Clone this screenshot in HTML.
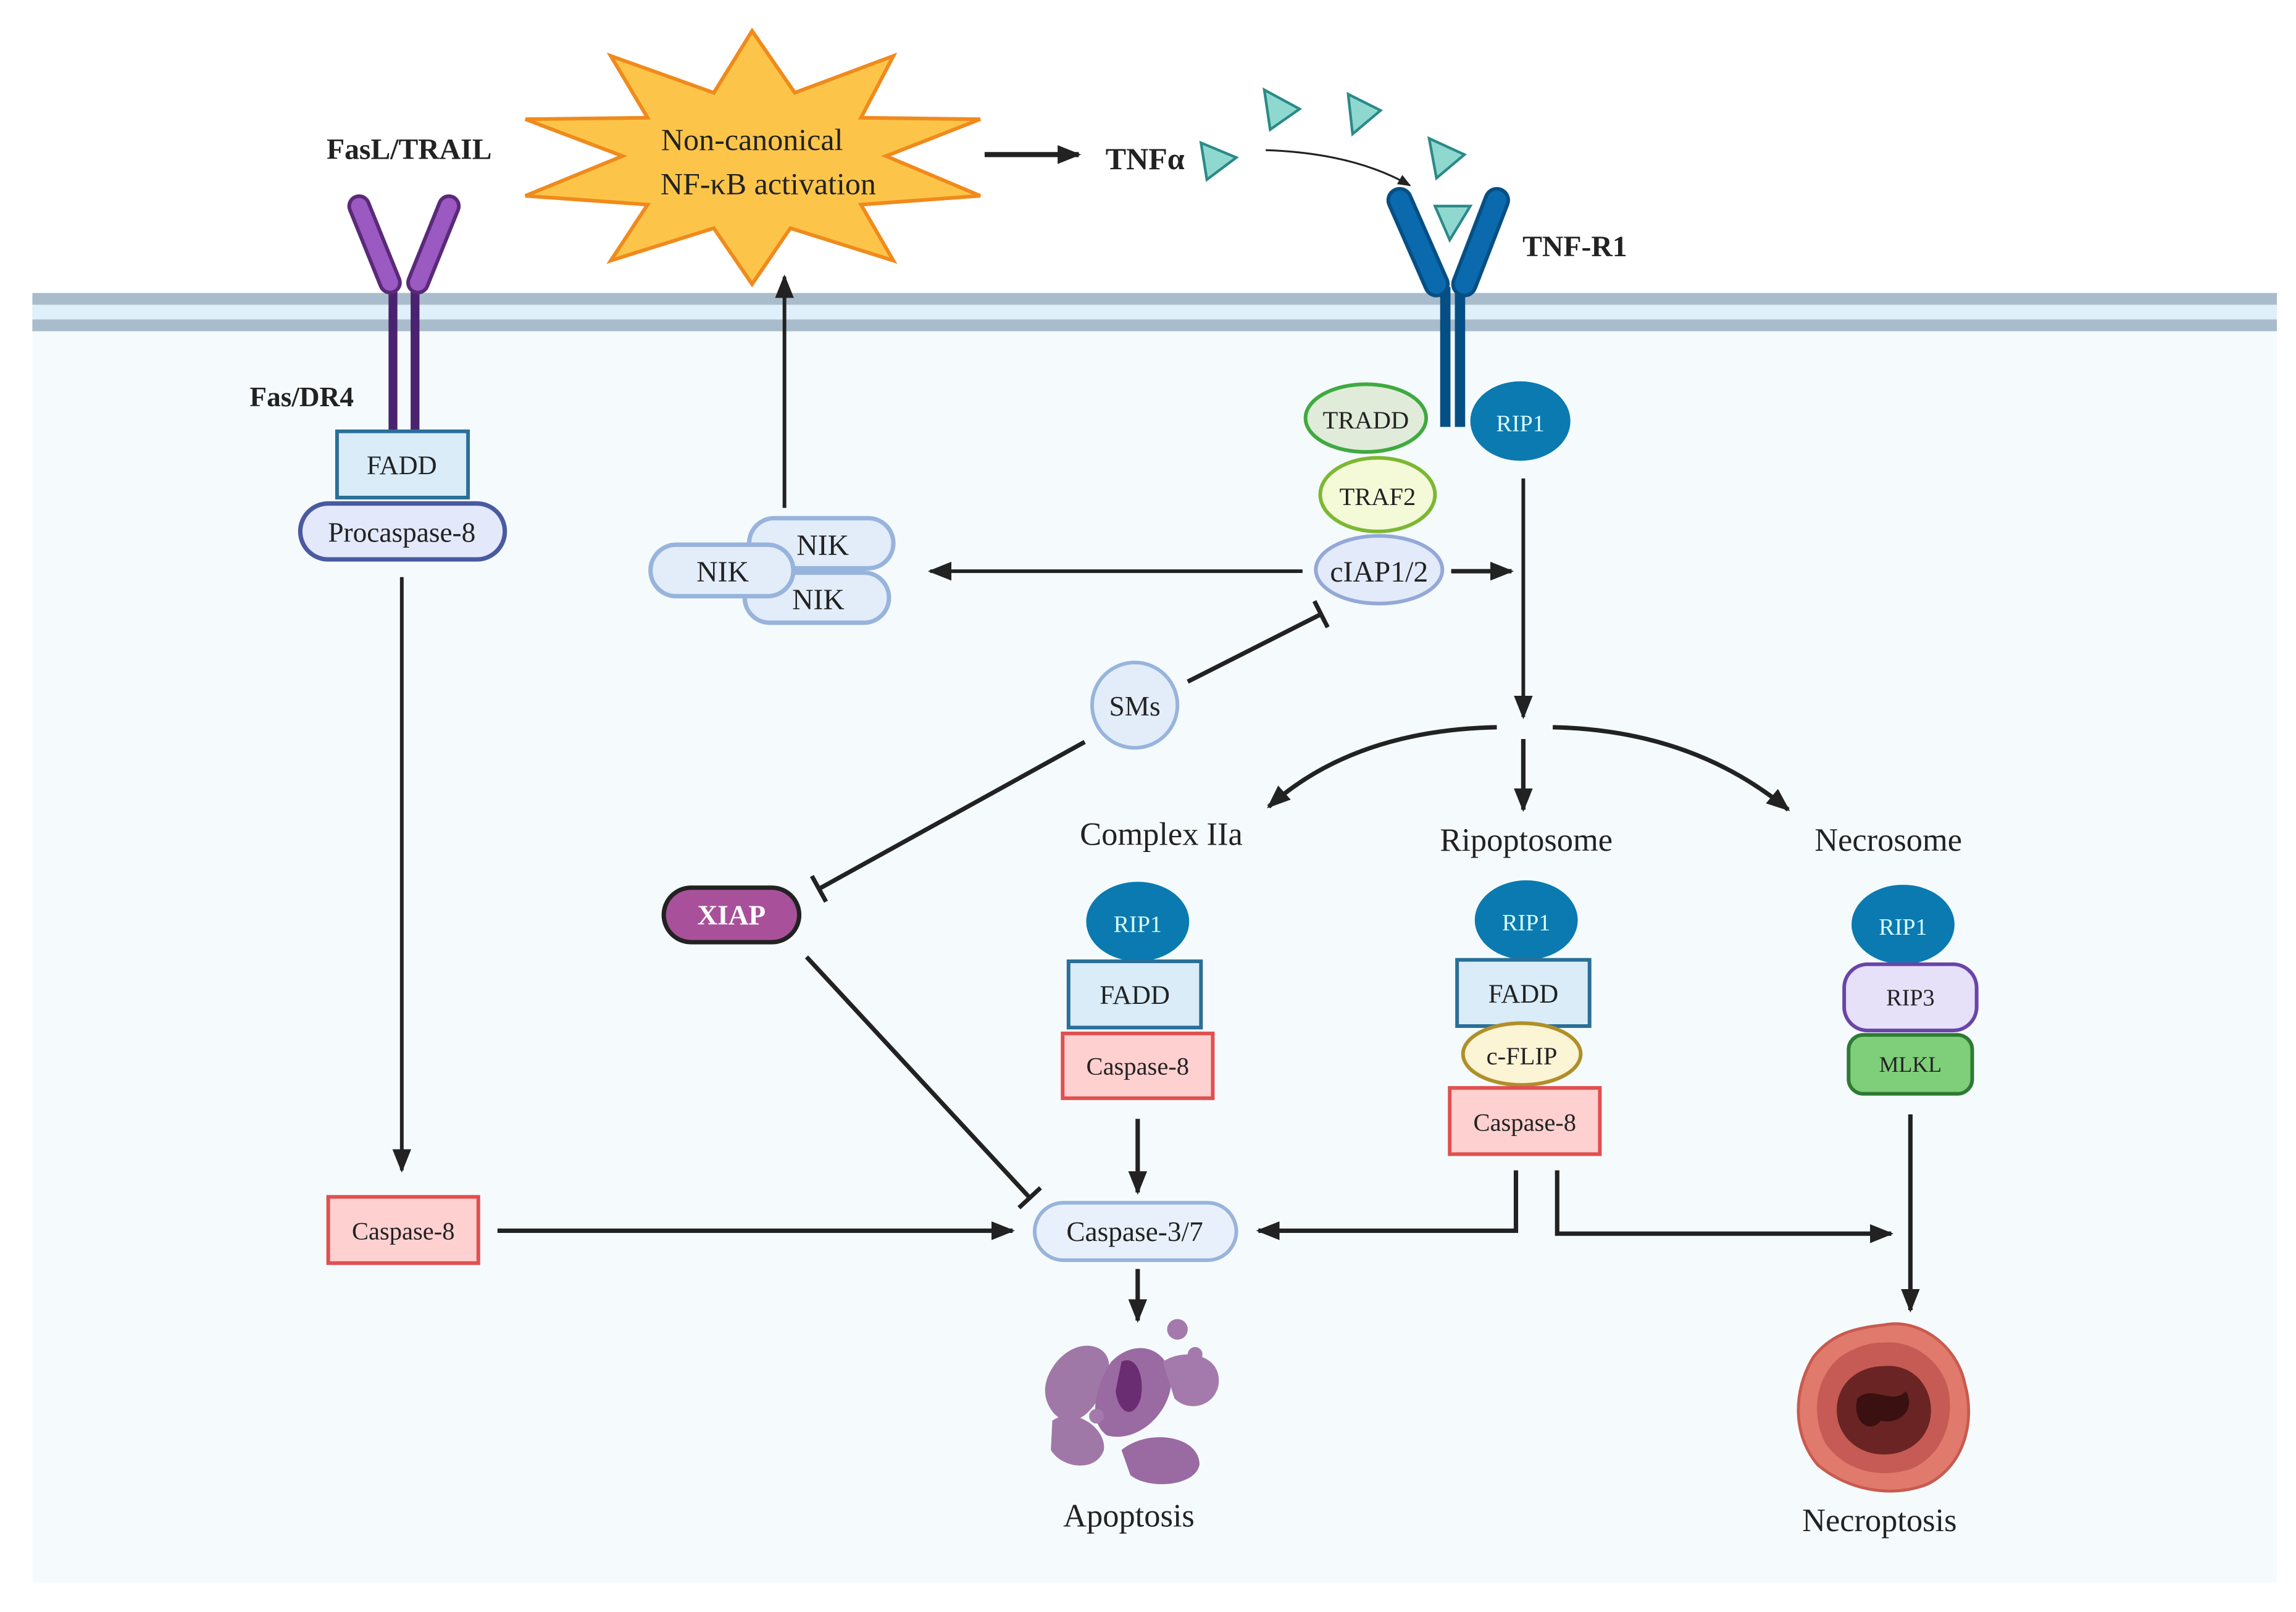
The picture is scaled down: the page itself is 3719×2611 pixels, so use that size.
<!DOCTYPE html>
<html><head><meta charset="utf-8"><style>
html,body{margin:0;padding:0;background:#fff}
svg{display:block}
text{font-family:"Liberation Serif",serif;fill:#222}
</style></head><body>
<svg width="3719" height="2611" viewBox="0 0 1560 1095" preserveAspectRatio="none" xmlns="http://www.w3.org/2000/svg">
<defs>
<marker id="a" viewBox="0 0 10 10" refX="9" refY="5" markerWidth="5" markerHeight="5" orient="auto-start-reverse" markerUnits="userSpaceOnUse"><path d="M0,0L10,5L0,10z" fill="#222"/></marker>
<marker id="ab" viewBox="0 0 10 10" refX="9" refY="5" markerWidth="16" markerHeight="16" orient="auto" markerUnits="userSpaceOnUse"><path d="M0,1L10,5L0,9z" fill="#222"/></marker>
<marker id="as" viewBox="0 0 10 10" refX="9" refY="5" markerWidth="9" markerHeight="9" orient="auto" markerUnits="userSpaceOnUse"><path d="M0,1L10,5L0,9z" fill="#222"/></marker>
<marker id="t" viewBox="0 0 4 20" refX="2" refY="10" markerWidth="4" markerHeight="20" orient="auto" markerUnits="userSpaceOnUse"><rect x="0" y="0" width="3" height="20" fill="#222"/></marker>
</defs>
<rect x="0" y="0" width="1560" height="1095" fill="#fff"/>
<rect x="22" y="222" width="1525" height="853" fill="#f5fbfd"/>
<rect x="22" y="200" width="1525" height="24" fill="#dff0fa"/>
<rect x="22" y="199" width="1525" height="8" fill="#a9bccb"/>
<rect x="22" y="217" width="1525" height="8" fill="#a9bccb"/>

<!-- star -->
<polygon points="511,21 540,63 607,38 585,80 666,81 602,106 666,133 585,139 607,177 537,155 511,193 485,155 415,177 440,139 357,133 423,106 357,81 440,80 415,38 485,63" fill="#fcc54a" stroke="#f08a1c" stroke-width="2.5" stroke-linejoin="miter"/>
<text x="511" y="102" font-size="21" text-anchor="middle">Non-canonical</text>
<text x="522" y="132" font-size="21" text-anchor="middle">NF-κB activation</text>

<!-- Fas receptor -->
<text x="278" y="108" font-size="20" font-weight="bold" text-anchor="middle">FasL/TRAIL</text>
<line x1="267" y1="195" x2="267" y2="292" stroke="#4a2270" stroke-width="6"/>
<line x1="282" y1="195" x2="282" y2="292" stroke="#4a2270" stroke-width="6"/>
<line x1="244" y1="140" x2="265" y2="192" stroke="#5a2a7a" stroke-width="16" stroke-linecap="round"/>
<line x1="244" y1="140" x2="265" y2="192" stroke="#9b59c2" stroke-width="11" stroke-linecap="round"/>
<line x1="305" y1="140" x2="284" y2="192" stroke="#5a2a7a" stroke-width="16" stroke-linecap="round"/>
<line x1="305" y1="140" x2="284" y2="192" stroke="#9b59c2" stroke-width="11" stroke-linecap="round"/>
<text x="205" y="276" font-size="19" font-weight="bold" text-anchor="middle">Fas/DR4</text>
<rect x="229" y="293" width="89" height="45" fill="#d9ecf8" stroke="#2a6f97" stroke-width="2.5"/>
<text x="273" y="322" font-size="18" text-anchor="middle">FADD</text>
<rect x="204" y="342" width="139" height="38" rx="19" fill="#e3e8fa" stroke="#4a5aa0" stroke-width="3"/>
<text x="273" y="368" font-size="19" text-anchor="middle">Procaspase-8</text>
<line x1="273" y1="392" x2="273" y2="795" stroke="#222" stroke-width="2.5" marker-end="url(#ab)"/>
<rect x="223" y="813" width="102" height="45" fill="#ffd0d0" stroke="#e05050" stroke-width="2.5"/>
<text x="274" y="842" font-size="17" text-anchor="middle">Caspase-8</text>
<line x1="338" y1="836" x2="688" y2="836" stroke="#222" stroke-width="3" marker-end="url(#ab)"/>

<!-- TNF -->
<line x1="669" y1="105" x2="733" y2="105" stroke="#222" stroke-width="3.5" marker-end="url(#ab)"/>
<text x="778" y="115" font-size="21" font-weight="bold" text-anchor="middle">TNFα</text>
<g fill="#8fd8d0" stroke="#2a8a88" stroke-width="1.8">
<polygon points="816,97 840,107 820,122"/>
<polygon points="859,61 883,74 863,88"/>
<polygon points="916,64 938,75 919,91"/>
<polygon points="971,94 995,105 976,121"/>
<polygon points="975,140 999,140 985,163"/>
</g>
<path d="M860,102 Q920,104 958,126" fill="none" stroke="#222" stroke-width="1.3" marker-end="url(#as)"/>

<!-- TNF-R1 -->
<line x1="982" y1="195" x2="982" y2="290" stroke="#064f85" stroke-width="7"/>
<line x1="992" y1="195" x2="992" y2="290" stroke="#064f85" stroke-width="7"/>
<line x1="951" y1="136" x2="976" y2="193" stroke="#064f85" stroke-width="18" stroke-linecap="round"/>
<line x1="951" y1="136" x2="976" y2="193" stroke="#0a6aad" stroke-width="13" stroke-linecap="round"/>
<line x1="1017" y1="136" x2="995" y2="193" stroke="#064f85" stroke-width="18" stroke-linecap="round"/>
<line x1="1017" y1="136" x2="995" y2="193" stroke="#0a6aad" stroke-width="13" stroke-linecap="round"/>
<text x="1070" y="174" font-size="20" font-weight="bold" text-anchor="middle">TNF-R1</text>

<ellipse cx="928" cy="284" rx="41" ry="23" fill="#e0ecd9" stroke="#3faa40" stroke-width="2.5"/>
<text x="928" y="291" font-size="17" text-anchor="middle">TRADD</text>
<ellipse cx="936" cy="336" rx="39" ry="25" fill="#f4f9d8" stroke="#7cb832" stroke-width="2.5"/>
<text x="936" y="343" font-size="17" text-anchor="middle">TRAF2</text>
<ellipse cx="937" cy="387" rx="43" ry="23" fill="#e3eaf9" stroke="#94a8d8" stroke-width="2.5"/>
<text x="937" y="395" font-size="20" text-anchor="middle">cIAP1/2</text>
<ellipse cx="1033" cy="286" rx="34" ry="27" fill="#0a7ab0"/>
<text x="1033" y="293" font-size="16" text-anchor="middle" style="fill:#dff">RIP1</text>

<line x1="986" y1="388" x2="1027" y2="388" stroke="#222" stroke-width="3" marker-end="url(#ab)"/>
<line x1="885" y1="388" x2="632" y2="388" stroke="#222" stroke-width="2.5" marker-end="url(#ab)"/>
<line x1="1035" y1="325" x2="1035" y2="487" stroke="#222" stroke-width="2.5" marker-end="url(#ab)"/>
<path d="M1017,494 Q920,496 862,548" fill="none" stroke="#222" stroke-width="3" marker-end="url(#ab)"/>
<path d="M1055,494 Q1150,496 1215,550" fill="none" stroke="#222" stroke-width="3" marker-end="url(#ab)"/>
<line x1="1035" y1="502" x2="1035" y2="550" stroke="#222" stroke-width="3" marker-end="url(#ab)"/>

<!-- NIK -->
<g fill="#e3edf9" stroke="#98b4dc" stroke-width="3">
<rect x="509" y="352" width="98" height="34" rx="17"/>
<rect x="506" y="389" width="98" height="34" rx="17"/>
<rect x="442" y="370" width="97" height="35" rx="17.5"/>
</g>
<text x="559" y="377" font-size="20" text-anchor="middle">NIK</text>
<text x="556" y="414" font-size="20" text-anchor="middle">NIK</text>
<text x="491" y="395" font-size="20" text-anchor="middle">NIK</text>
<line x1="533" y1="345" x2="533" y2="188" stroke="#222" stroke-width="2.5" marker-end="url(#ab)"/>

<!-- SMs / XIAP -->
<circle cx="771" cy="479" r="29" fill="#e3edf9" stroke="#98b4dc" stroke-width="2.5"/>
<text x="771" y="486" font-size="19" text-anchor="middle">SMs</text>
<line x1="807" y1="463" x2="898" y2="417" stroke="#222" stroke-width="3" marker-end="url(#t)"/>
<line x1="737" y1="504" x2="556" y2="604" stroke="#222" stroke-width="3" marker-end="url(#t)"/>
<rect x="451" y="603" width="92" height="37" rx="18.5" fill="#a8519a" stroke="#222" stroke-width="3"/>
<text x="497" y="628" font-size="19" font-weight="bold" text-anchor="middle" style="fill:#fff">XIAP</text>
<line x1="548" y1="650" x2="700" y2="814" stroke="#222" stroke-width="3" marker-end="url(#t)"/>

<!-- labels -->
<text x="789" y="574" font-size="22" text-anchor="middle">Complex IIa</text>
<text x="1037" y="578" font-size="22" text-anchor="middle">Ripoptosome</text>
<text x="1283" y="578" font-size="22" text-anchor="middle">Necrosome</text>

<!-- Complex IIa -->
<ellipse cx="773" cy="626" rx="35" ry="27" fill="#0a7ab0"/>
<text x="773" y="633" font-size="16" text-anchor="middle" style="fill:#dff">RIP1</text>
<rect x="726" y="653" width="90" height="45" fill="#d9ecf8" stroke="#2a6f97" stroke-width="2.5"/>
<text x="771" y="682" font-size="18" text-anchor="middle">FADD</text>
<rect x="722" y="702" width="102" height="44" fill="#ffd0d0" stroke="#e05050" stroke-width="2.5"/>
<text x="773" y="730" font-size="17" text-anchor="middle">Caspase-8</text>
<line x1="773" y1="760" x2="773" y2="810" stroke="#222" stroke-width="3" marker-end="url(#ab)"/>
<rect x="703" y="817" width="137" height="39" rx="19.5" fill="#e8f1fb" stroke="#98b4dc" stroke-width="2.5"/>
<text x="771" y="843" font-size="19" text-anchor="middle">Caspase-3/7</text>
<line x1="773" y1="862" x2="773" y2="897" stroke="#222" stroke-width="3" marker-end="url(#ab)"/>

<!-- apoptosis cell -->
<g>
<path d="M718,925 C735,905 760,915 752,935 C748,955 730,975 716,960 C706,948 710,935 718,925z" fill="#a078a8"/>
<path d="M755,925 C775,905 800,920 795,945 C790,965 770,980 752,975 C738,965 745,940 755,925z" fill="#9a6aa2"/>
<path d="M762,925 C772,920 778,935 775,950 C770,965 760,960 758,945z" fill="#6a2d72"/>
<path d="M790,925 C805,915 830,920 828,940 C826,955 808,960 798,950z" fill="#a47aac"/>
<path d="M715,965 C730,955 752,970 750,985 C745,1000 722,998 714,985z" fill="#a078a8"/>
<path d="M762,985 C780,970 815,975 815,995 C812,1010 780,1012 768,1002z" fill="#9a6aa2"/>
<circle cx="800" cy="903" r="7" fill="#a47aac"/>
<circle cx="812" cy="920" r="5" fill="#a47aac"/>
<circle cx="745" cy="962" r="5" fill="#a47aac"/>
</g>
<text x="767" y="1037" font-size="22" text-anchor="middle">Apoptosis</text>

<!-- Ripoptosome -->
<ellipse cx="1037" cy="625" rx="35" ry="27" fill="#0a7ab0"/>
<text x="1037" y="632" font-size="16" text-anchor="middle" style="fill:#dff">RIP1</text>
<rect x="990" y="652" width="90" height="45" fill="#d9ecf8" stroke="#2a6f97" stroke-width="2.5"/>
<text x="1035" y="681" font-size="18" text-anchor="middle">FADD</text>
<ellipse cx="1034" cy="716" rx="40" ry="21" fill="#fbf4d5" stroke="#b08f2a" stroke-width="2.5"/>
<text x="1034" y="723" font-size="17" text-anchor="middle">c-FLIP</text>
<rect x="985" y="739" width="102" height="45" fill="#ffd0d0" stroke="#e05050" stroke-width="2.5"/>
<text x="1036" y="768" font-size="17" text-anchor="middle">Caspase-8</text>
<polyline points="1030,795 1030,836 855,836" fill="none" stroke="#222" stroke-width="3" marker-end="url(#ab)"/>
<polyline points="1058,795 1058,838 1285,838" fill="none" stroke="#222" stroke-width="3" marker-end="url(#ab)"/>

<!-- Necrosome -->
<ellipse cx="1293" cy="628" rx="35" ry="27" fill="#0a7ab0"/>
<text x="1293" y="635" font-size="16" text-anchor="middle" style="fill:#dff">RIP1</text>
<rect x="1253" y="655" width="90" height="45" rx="16" fill="#e6e0f8" stroke="#6a44a8" stroke-width="2.5"/>
<text x="1298" y="683" font-size="16" text-anchor="middle">RIP3</text>
<rect x="1256" y="703" width="84" height="40" rx="10" fill="#7fcf7a" stroke="#2f7a33" stroke-width="2.5"/>
<text x="1298" y="728" font-size="15" text-anchor="middle">MLKL</text>
<line x1="1298" y1="757" x2="1298" y2="890" stroke="#222" stroke-width="3" marker-end="url(#ab)"/>

<!-- necrotic cell -->
<g>
<path d="M1280,900 C1305,895 1330,915 1335,940 C1342,965 1335,995 1310,1008 C1285,1018 1255,1012 1235,995 C1218,975 1218,945 1232,922 C1245,905 1262,902 1280,900z" fill="#e07a6c" stroke="#c95a4e" stroke-width="2"/>
<path d="M1280,912 C1300,910 1320,925 1324,945 C1328,968 1318,990 1298,998 C1275,1005 1252,998 1240,980 C1230,960 1234,935 1250,922 C1260,915 1270,912 1280,912z" fill="#c65a54"/>
<path d="M1280,928 C1298,926 1312,940 1312,958 C1312,976 1298,988 1280,988 C1262,988 1248,975 1248,958 C1248,940 1262,928 1280,928z" fill="#6a2424"/>
<path d="M1262,950 C1272,940 1285,955 1295,945 C1302,958 1290,968 1278,965 C1270,975 1258,965 1262,950z" fill="#3a1010"/>
</g>
<text x="1277" y="1040" font-size="22" text-anchor="middle">Necroptosis</text>
</svg>
</body></html>
